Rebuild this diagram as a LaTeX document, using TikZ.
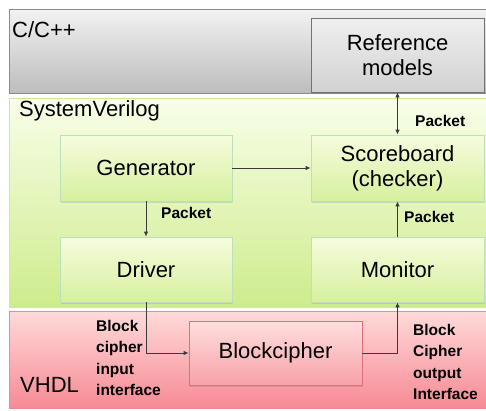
\documentclass[tikz,border=0pt]{standalone}
\usepackage{fontspec}
\setmainfont{Liberation Sans}
\usetikzlibrary{arrows.meta,shadows}
\definecolor{arr}{HTML}{3A3A3A}
\tikzset{
  big/.style={font=\fontsize{22}{25}\selectfont},
  small/.style={font=\bfseries\fontsize{15.5}{21.5}\selectfont, align=left, inner sep=0pt},
  band/.style={draw, line width=0.8pt},
  box/.style={draw, line width=0.8pt, big, align=center, inner sep=0pt,
              drop shadow={opacity=0.25, shadow xshift=1.2pt, shadow yshift=-1.5pt}},
  graybox/.style={box, draw=black!55, top color=white!94!black, bottom color=black!18},
  greenbox/.style={box, draw=green!30!white!80!black!60, top color={rgb,255:red,246;green,252;blue,222}, bottom color={rgb,255:red,214;green,240;blue,158}},
  redbox/.style={box, draw={rgb,255:red,226;green,110;blue,122}, top color={rgb,255:red,255;green,222;blue,222}, bottom color={rgb,255:red,247;green,162;blue,168}},
  conn/.style={draw=arr, line width=0.8pt},
  tip/.style={-{Latex[length=5pt,width=4.5pt]}},
}
\begin{document}
\begin{tikzpicture}[x=1pt,y=-1pt]
\useasboundingbox (0,0) rectangle (486,410);
\fill[white] (0,0) rectangle (486,410);
% bands
\path[band, draw=black!45, top color=white!95!black, bottom color=black!26] (9,9) rectangle (492,93);
\path[band, draw={rgb,255:red,205;green,230;blue,160}, top color={rgb,255:red,248;green,254;blue,232}, bottom color={rgb,255:red,206;green,236;blue,140}] (9,98) rectangle (492,307);
\path[band, draw={rgb,255:red,230;green,140;blue,150}, top color={rgb,255:red,255;green,218;blue,218}, bottom color={rgb,255:red,246;green,138;blue,148}] (9,311) rectangle (492,408);
% band labels
\node[big, anchor=base west, inner sep=0pt] (lc) at (12,37) {C/C++};
\node[big, anchor=base west, inner sep=0pt] (lsv) at (19,116) {SystemVerilog};
\node[big, anchor=base west, inner sep=0pt] (lvh) at (20,392) {VHDL};
% boxes
\node[graybox, minimum width=173pt, minimum height=74pt] (ref) at (397.5,55) {Reference\\models};
\node[greenbox, minimum width=172pt, minimum height=66pt] (gen) at (146,168) {Generator};
\node[greenbox, minimum width=173pt, minimum height=66pt] (sb) at (397.5,168) {Scoreboard\\(checker)};
\node[greenbox, minimum width=172pt, minimum height=65pt] (drv) at (146,269.5) {Driver};
\node[greenbox, minimum width=173pt, minimum height=65pt] (mon) at (397.5,269.5) {Monitor};
\node[redbox, minimum width=173pt, minimum height=64pt] (bc) at (275.5,353) {Blockcipher};
% connectors
\draw[conn, {Latex[length=5pt,width=4.5pt]}-{Latex[length=5pt,width=4.5pt]}] (ref.south) -- (sb.north);
\draw[conn, tip] (gen.east) -- (sb.west);
\draw[conn, tip] (gen.south) -- (drv.north);
\draw[conn, tip] (mon.north) -- (sb.south);
\coordinate (c1) at (146,353);
\coordinate (c2) at (397.5,353);
\draw[conn, tip] (drv.south) -- (c1) -- (bc.west);
\draw[conn, tip] (bc.east) -- (c2) -- (mon.south);
% labels
\node[small, anchor=base west] (p1) at (415,126) {Packet};
\node[small, anchor=base west] (p2) at (161,218) {Packet};
\node[small, anchor=base west] (p3) at (404,222) {Packet};
\node[small, anchor=north west] (lin) at (96,320) {Block\\cipher\\input\\interface};
\node[small, anchor=north west] (lout) at (413,324) {Block\\Cipher\\output\\Interface};
\end{tikzpicture}
\end{document}
